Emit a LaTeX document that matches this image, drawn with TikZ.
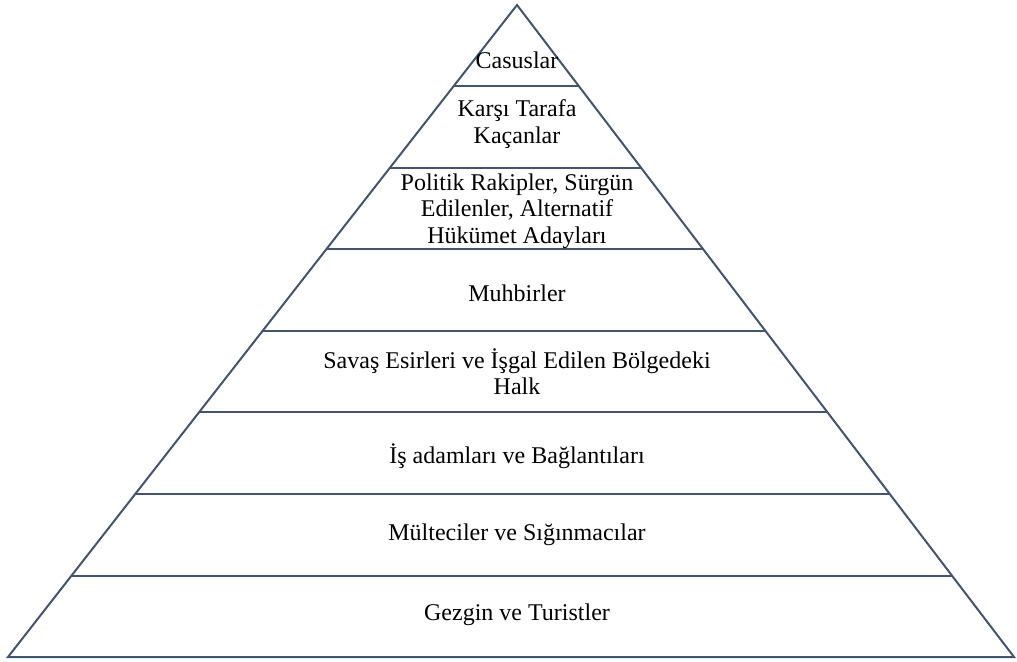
\documentclass[tikz,border=0pt]{standalone}
\usepackage{fontspec}
\setmainfont{Liberation Serif}
\usepackage{tikz}
\usetikzlibrary{calc}
\definecolor{edgegray}{HTML}{44546A}

\begin{document}
\begin{tikzpicture}[x=0.5pt,y=-0.5pt,
  layer/.style={draw=edgegray,line width=1pt},
  label/.style={align=center,font=\fontsize{12}{13.2}\selectfont,inner sep=0pt}]
\useasboundingbox (0,0) rectangle (1017,662);
\coordinate (apex) at (517,5);
\coordinate (bl) at (8,657);
\coordinate (br) at (1014,657);
\draw[layer,line join=miter] (apex) -- (bl) -- (br) -- cycle;
\foreach \k in {1,...,7}{
  \coordinate (L\k) at ($(apex)!\k/8!(bl)$);
  \coordinate (R\k) at ($(apex)!\k/8!(br)$);
  \draw[layer] (L\k) -- (R\k);
}
\node[label] (casus) at (517,60) {Casuslar};
\node[label] (kacan) at (517,124) {Karşı Tarafa\\Kaçanlar};
\node[label] (politik) at (517,211) {Politik Rakipler, Sürgün\\Edilenler, Alternatif\\Hükümet Adayları};
\node[label] (muhbir) at (517,293) {Muhbirler};
\node[label] (esir) at (517,372) {Savaş Esirleri ve İşgal Edilen Bölgedeki\\Halk};
\node[label] (isadam) at (517,456) {İş adamları ve Bağlantıları};
\node[label] (multeci) at (517,535) {Mülteciler ve Sığınmacılar};
\node[label] (gezgin) at (517,615) {Gezgin ve Turistler};
\end{tikzpicture}
\end{document}
